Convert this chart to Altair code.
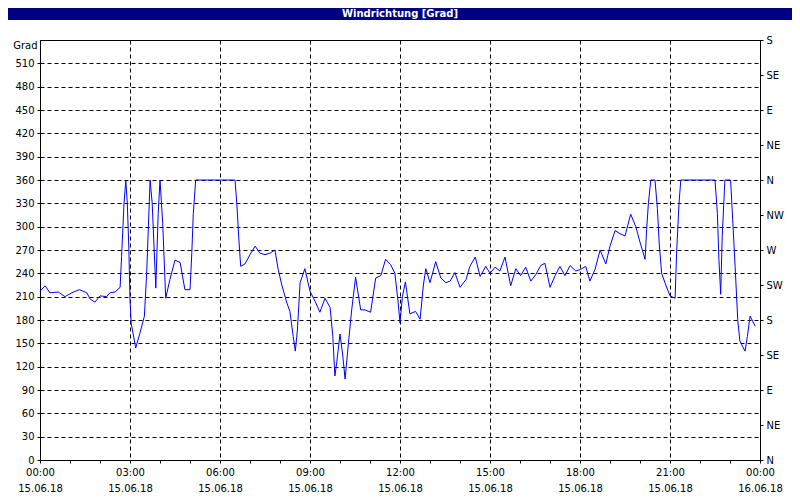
import altair as alt
import pandas as pd

# ---- data ----
hours = [0.00, 0.17, 0.33, 0.61, 0.83, 1.06, 1.31, 1.56, 1.67, 1.83, 2.00, 2.22, 2.33, 2.50, 2.67, 2.72, 2.80, 2.86, 2.91, 2.96,
         3.00, 3.04, 3.19, 3.33, 3.48, 3.56, 3.67, 3.74, 3.86, 3.94, 4.00, 4.09, 4.19, 4.33, 4.50, 4.67, 4.83,
         5.00, 5.06, 5.11, 5.19, 6.50, 6.56, 6.63, 6.69, 6.83, 7.00, 7.17, 7.33, 7.50, 7.67, 7.83, 7.94, 8.06, 8.22, 8.33,
         8.44, 8.51, 8.58, 8.67, 8.83, 9.00, 9.17, 9.33, 9.50, 9.67, 9.76, 9.83, 9.89,
         10.00, 10.09, 10.17, 10.28, 10.39, 10.52, 10.69, 10.83, 11.02, 11.19, 11.36, 11.52, 11.69, 11.83, 11.94, 12.00,
         12.08, 12.18, 12.33, 12.52, 12.67, 12.78, 12.86, 13.00, 13.19, 13.36, 13.53, 13.67, 13.83, 14.00, 14.20, 14.33,
         14.51, 14.67, 14.86,
         15.00, 15.17, 15.33, 15.50, 15.69, 15.86, 16.02, 16.19, 16.36, 16.52, 16.69, 16.83, 17.00, 17.17, 17.33, 17.50,
         17.67, 17.86, 18.02, 18.19, 18.33, 18.50, 18.67, 18.86, 19.00, 19.17, 19.33, 19.50, 19.69, 19.86,
         20.00, 20.17, 20.22, 20.28, 20.36, 20.50, 20.58, 20.64, 20.72, 20.86, 21.00, 21.17, 21.22, 21.30, 21.36, 22.50,
         22.58, 22.63, 22.69, 22.74, 22.83, 23.02, 23.09, 23.17, 23.26, 23.33, 23.50, 23.58, 23.67, 23.84]
degrees = [217, 224, 215, 216, 210, 215, 219, 215, 207, 203, 211, 210, 215, 216, 222, 262, 330, 359, 330, 274,
           206, 176, 144, 163, 185, 244, 360, 330, 221, 317, 360, 305, 208, 232, 257, 254, 219,
           219, 266, 317, 360, 360, 330, 283, 249, 252, 264, 275, 266, 264, 266, 270, 245, 225, 203, 191,
           159, 140, 167, 228, 246, 217, 204, 190, 208, 196, 159, 108, 125,
           162, 135, 104, 150, 193, 235, 193, 193, 190, 234, 237, 258, 251, 240, 202, 176,
           210, 229, 188, 191, 181, 225, 246, 228, 255, 234, 228, 230, 241, 222, 232, 249,
           261, 236, 249,
           240, 248, 243, 261, 224, 246, 237, 248, 230, 238, 250, 253, 222, 237, 249, 237,
           250, 243, 245, 249, 230, 245, 270, 252, 275, 295, 291, 288, 316, 300,
           280, 258, 296, 330, 360, 360, 323, 279, 240, 225, 211, 208, 266, 330, 360, 360,
           317, 258, 213, 287, 360, 360, 309, 249, 179, 153, 140, 159, 185, 172]

directions = ["N", "NE", "E", "SE", "S", "SW", "W", "NW", "N", "NE", "E", "SE", "S"]
deg_ticks = list(range(0, 540, 30))
dir_ticks = list(range(0, 541, 45))
hour_ticks = list(range(0, 25))
day1, day2 = "15.06.18", "16.06.18"
title_text = "Windrichtung [Grad]"
y_title = "Grad"

df = pd.DataFrame({"h": hours, "deg": degrees})
FONT = "DejaVu Sans"
FS = 10

x_label_expr = (
    "datum.value % 3 == 0 ? [(datum.value % 24 < 10 ? '0' : '') + (datum.value % 24) + ':00', "
    f"datum.value < 24 ? '{day1}' : '{day2}'] : ''"
)
dir_expr = "[" + ",".join(f"'{d}'" for d in directions) + "][round(datum.value / 45)]"

x_scale = alt.Scale(domain=[0, 24], nice=False, zero=False)
x_axis = alt.Axis(
    values=hour_ticks, labelExpr=x_label_expr, labelFlush=False, labelOverlap=False,
    grid=True, gridColor="black", gridDash=[4, 3],
    gridOpacity={"condition": {"test": "datum.value % 3 == 0", "value": 1}, "value": 0},
    tickSize=3, labelPadding=4, labelLineHeight=16, title=None,
)

line = alt.Chart(df).mark_line(color="#0000ff", strokeWidth=1).encode(
    x=alt.X("h:Q", scale=x_scale, axis=x_axis),
    y=alt.Y(
        "deg:Q",
        scale=alt.Scale(domain=[0, 540], nice=False, zero=True),
        axis=alt.Axis(
            values=deg_ticks, grid=True, gridColor="black", gridDash=[4, 3],
            tickSize=3, labelPadding=3, title=y_title, titleAngle=0, titleX=-3, titleY=5,
            titleAlign="right", titleBaseline="middle", titleFontWeight="normal",
            titleFont=FONT, titleFontSize=FS, titleColor="black",
        ),
    ),
)

right = alt.Chart(df).mark_line(opacity=0).encode(
    x=alt.X("h:Q", scale=x_scale, axis=x_axis),
    y=alt.Y(
        "deg:Q",
        scale=alt.Scale(domain=[0, 540], nice=False, zero=True),
        axis=alt.Axis(orient="right", values=dir_ticks, labelExpr=dir_expr, grid=False,
                      tickSize=3, labelPadding=3, title=None),
    ),
)

title_df = pd.DataFrame({"t": [title_text]})
bar = alt.Chart(title_df).mark_rect(color="#000080").encode(
    x=alt.value(-32), x2=alt.value(752), y=alt.value(-32), y2=alt.value(-20)
)
bar_text = alt.Chart(title_df).mark_text(
    color="white", font=FONT, fontSize=FS, fontWeight="bold", align="center", baseline="middle"
).encode(x=alt.value(360), y=alt.value(-26), text="t:N")

chart = (
    alt.layer(line, right, bar, bar_text)
    .resolve_scale(y="independent")
    .properties(
        width=720, height=420,
        autosize=alt.AutoSizeParams(type="none"),
        padding={"left": 32, "top": 32, "right": 32, "bottom": 32},
        background="white",
    )
    .configure_view(stroke="black", strokeWidth=1)
    .configure_axis(
        labelFont=FONT, labelFontSize=FS, labelColor="black",
        tickColor="black", domainColor="black",
    )
)

chart.save("out.html", embed_options={"renderer": "svg", "actions": False})
